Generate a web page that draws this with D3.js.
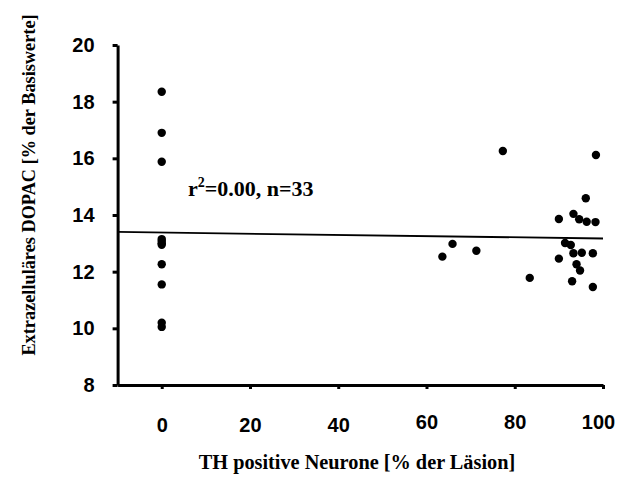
<!DOCTYPE html>
<html lang="de">
<head>
  <meta charset="UTF-8">
  <title>DOPAC vs TH positive Neurone</title>
  <style>
    body { margin: 0; background: #fff; }
    svg { display: block; }
    .tick text { font-family: "Liberation Sans", Arial, sans-serif; font-weight: bold; font-size: 20px; fill: #000; }
    .axis path, .axis line { stroke: #000; stroke-width: 3; }
    .title { font-family: "Liberation Serif", "Times New Roman", serif; font-weight: bold; font-size: 19px; fill: #000; }
  </style>
  <script src="https://d3js.org/d3.v7.min.js"></script>
</head>
<body>
  <div id="chart"></div>
  <script>
    // Werte
    var thNeurone = [0, 0, 0, 0, 0, 0, 0, 0, 0, 0, 0,
      63.6, 65.9, 71.3, 77.3, 83.4, 90.0, 90.0, 91.4, 92.7, 93.3, 93.3,
      93.0, 94.0, 94.6, 94.8, 95.2, 96.1, 96.3, 97.7, 97.7, 98.3, 98.4];
    var dopac = [18.35, 16.9, 15.88, 13.15, 13.08, 13.0, 12.95, 12.26, 11.55, 10.2, 10.05,
      12.53, 12.98, 12.74, 16.26, 11.78, 13.86, 12.46, 13.01, 12.94, 14.04, 12.65,
      11.66, 12.26, 13.85, 12.04, 12.67, 14.59, 13.76, 12.65, 11.46, 13.75, 16.12];
    var xTicks = [0, 20, 40, 60, 80, 100];
    var yTicks = [8, 10, 12, 14, 16, 18, 20];

    var width = 619, height = 479;

    var x = d3.scaleLinear().domain([-10, 100]).range([117.6, 603]);
    var y = d3.scaleLinear().domain([8, 20]).range([385, 45]);

    var svg = d3.select("#chart").append("svg")
      .attr("width", width)
      .attr("height", height);

    var points = thNeurone.map(function(d, i) { return [d, dopac[i]]; });

    // Regressionsgerade (kleinste Quadrate)
    var mx = d3.mean(points, function(p) { return p[0]; }),
      my = d3.mean(points, function(p) { return p[1]; });
    var sxy = d3.sum(points, function(p) { return (p[0] - mx) * (p[1] - my); }),
      sxx = d3.sum(points, function(p) { return (p[0] - mx) * (p[0] - mx); });
    var slope = sxy / sxx, intercept = my - slope * mx;

    // y-Achse
    svg.append("g")
      .attr("class", "axis")
      .attr("transform", "translate(" + x(-10) + ",0)")
      .call(d3.axisLeft(y).tickValues(yTicks).tickSize(5).tickSizeOuter(0).tickPadding(18));

    // x-Achse
    var xAxis = svg.append("g")
      .attr("class", "axis")
      .attr("transform", "translate(0," + y(8) + ")")
      .call(d3.axisBottom(x).tickValues(xTicks).tickSize(4).tickSizeOuter(0));
    xAxis.selectAll(".tick text")
      .attr("dy", null)
      .attr("y", function(d, i) { return i < 3 ? 47 : 44; })
      .attr("x", function(d) { return d === 100 ? -5 : 0; });

    // Regressionsgerade
    svg.append("line")
      .attr("x1", x(-10)).attr("y1", y(intercept + slope * -10))
      .attr("x2", x(100)).attr("y2", y(intercept + slope * 100))
      .attr("stroke", "#000")
      .attr("stroke-width", 1.8);

    // Punkte
    svg.append("g")
      .selectAll("circle")
      .data(points)
      .enter().append("circle")
      .attr("cx", function(d) { return x(d[0]); })
      .attr("cy", function(d) { return y(d[1]); })
      .attr("r", 4.2)
      .attr("fill", "#000");

    // Beschriftung
    var ann = svg.append("text")
      .attr("class", "title")
      .attr("x", 188)
      .attr("y", 196)
      .style("font-size", "22px");
    ann.append("tspan").text("r");
    ann.append("tspan").attr("dy", -9).style("font-size", "14px").text("2");
    ann.append("tspan").attr("dy", 9).text("=0.00, n=33");

    svg.append("text")
      .attr("class", "title")
      .attr("text-anchor", "middle")
      .attr("x", 357)
      .attr("y", 469)
      .style("font-size", "20.3px")
      .text("TH positive Neurone [% der Läsion]");

    svg.append("text")
      .attr("class", "title")
      .attr("text-anchor", "middle")
      .attr("transform", "translate(35,185) rotate(-90)")
      .style("font-size", "18.3px")
      .text("Extrazelluläres DOPAC [% der Basiswerte]");
  </script>
</body>
</html>
